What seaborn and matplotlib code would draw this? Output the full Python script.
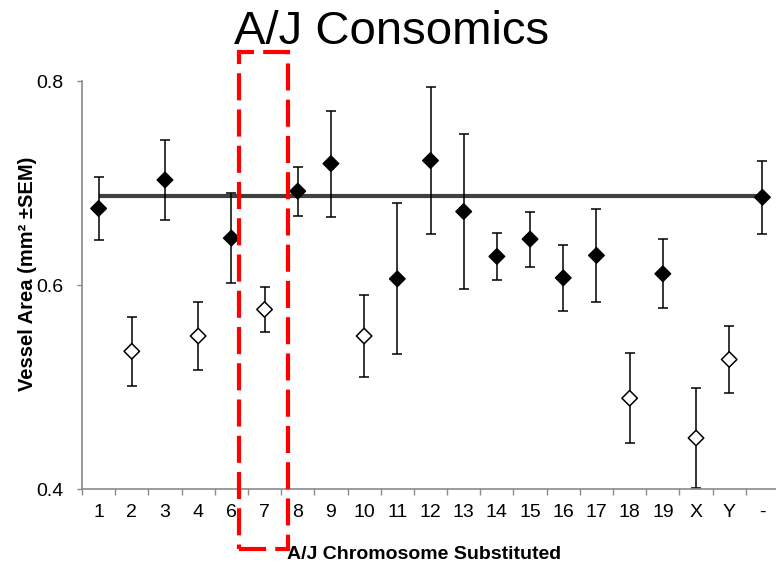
import numpy as np
import pandas as pd
import matplotlib
matplotlib.use("Agg")
import matplotlib.pyplot as plt
import seaborn as sns
from matplotlib.patches import Rectangle

# ---------------- data ----------------
chromosomes = ["1", "2", "3", "4", "6", "7", "8", "9", "10", "11", "12", "13",
               "14", "15", "16", "17", "18", "19", "X", "Y", "-"]
vessel_area = [0.675, 0.535, 0.703, 0.550, 0.646, 0.576, 0.692, 0.719, 0.550,
               0.606, 0.722, 0.672, 0.628, 0.645, 0.607, 0.629, 0.489, 0.611,
               0.450, 0.527, 0.686]
sem = [0.031, 0.034, 0.039, 0.033, 0.044, 0.022, 0.024, 0.052, 0.040, 0.074,
       0.072, 0.076, 0.023, 0.027, 0.032, 0.046, 0.044, 0.034, 0.049, 0.033,
       0.036]
marker_group = ["filled", "open", "filled", "open", "filled", "open", "filled",
                "filled", "open", "filled", "filled", "filled", "filled",
                "filled", "filled", "filled", "open", "filled", "open", "open",
                "filled"]
control_mean = 0.687
y_ticks = [0.4, 0.6, 0.8]
highlight_span = ("6", "7")   # chromosomes framed by the red dashed box

df = pd.DataFrame({"chromosome": chromosomes, "area": vessel_area,
                   "sem": sem, "group": marker_group})

# ---------------- style ----------------
sns.set_style("white")
plt.rcParams["font.family"] = ["Liberation Sans", "DejaVu Sans"]
plt.rcParams["text.color"] = "black"
plt.rcParams["axes.labelcolor"] = "black"
plt.rcParams["xtick.labelcolor"] = "black"
plt.rcParams["ytick.labelcolor"] = "black"

fig = plt.figure(figsize=(7.76, 5.69), dpi=100)
ax = fig.add_axes([82 / 776, 1 - 489 / 569, (779 - 82) / 776, (489 - 81) / 569])

# error bars (also fixes categorical order)
ax.errorbar(df["chromosome"], df["area"], yerr=df["sem"], fmt="none",
            ecolor="black", elinewidth=1.1, capsize=3.8, capthick=1.1, zorder=2)

# control mean line
ax.plot([chromosomes[0], chromosomes[-1]], [control_mean, control_mean],
        color="#404040", lw=3.0, zorder=1, solid_capstyle="butt")

# markers
sns.scatterplot(data=df, x="chromosome", y="area", hue="group",
                palette={"filled": "black", "open": "white"},
                marker="D", s=62, edgecolor="black", linewidth=1.1,
                legend=False, ax=ax, zorder=3)

n = len(chromosomes)
ax.set_xlim(-0.5, n - 0.5)
ax.set_ylim(0.4, 0.8)
ax.set_yticks(y_ticks)
ax.set_yticklabels([f"{v:.1f}" for v in y_ticks])
ax.set_xticks(range(n))
ax.set_xticklabels(chromosomes)
ax.set_xticks(np.arange(-0.5, n, 1.0), minor=True)

spine_color = "#8a8a8a"
for side in ["top", "right"]:
    ax.spines[side].set_visible(False)
for side in ["left", "bottom"]:
    ax.spines[side].set_color(spine_color)
    ax.spines[side].set_linewidth(1.2)

ax.tick_params(axis="x", which="major", length=0, pad=11, labelsize=14,
               labelcolor="black")
ax.tick_params(axis="x", which="minor", length=4.5, width=1.0,
               color=spine_color, direction="out", bottom=True)
ax.tick_params(axis="y", which="major", length=3.6, width=1.0,
               color=spine_color, direction="out", pad=10, labelsize=14,
               labelcolor="black", left=True)

ax.set_xlabel("A/J Chromosome Substituted", fontsize=14, fontweight="bold",
              color="black")
ax.xaxis.set_label_coords(0.491, -0.14)
ax.set_ylabel("Vessel Area (mm² ±SEM)", fontsize=14.5, fontweight="bold",
              color="black")
ax.yaxis.set_label_coords(-0.064, 0.528)

fig.text(0.505, 1 - 44 / 569, "A/J Consomics", fontsize=34, ha="center",
         va="baseline", color="black")

# red dashed highlight box around chromosomes 6-7 (annotation)
i0 = chromosomes.index(highlight_span[0])
i1 = chromosomes.index(highlight_span[1])
box = Rectangle((i0 + 0.22, 0.341), (i1 - i0) + 0.5, 0.828 - 0.341,
                transform=ax.transData, fill=False, edgecolor="#ff0000",
                lw=3.0, linestyle=(0, (6.5, 2.2)), clip_on=False, zorder=5)
ax.add_patch(box)

fig.savefig("out.png", dpi=100)
